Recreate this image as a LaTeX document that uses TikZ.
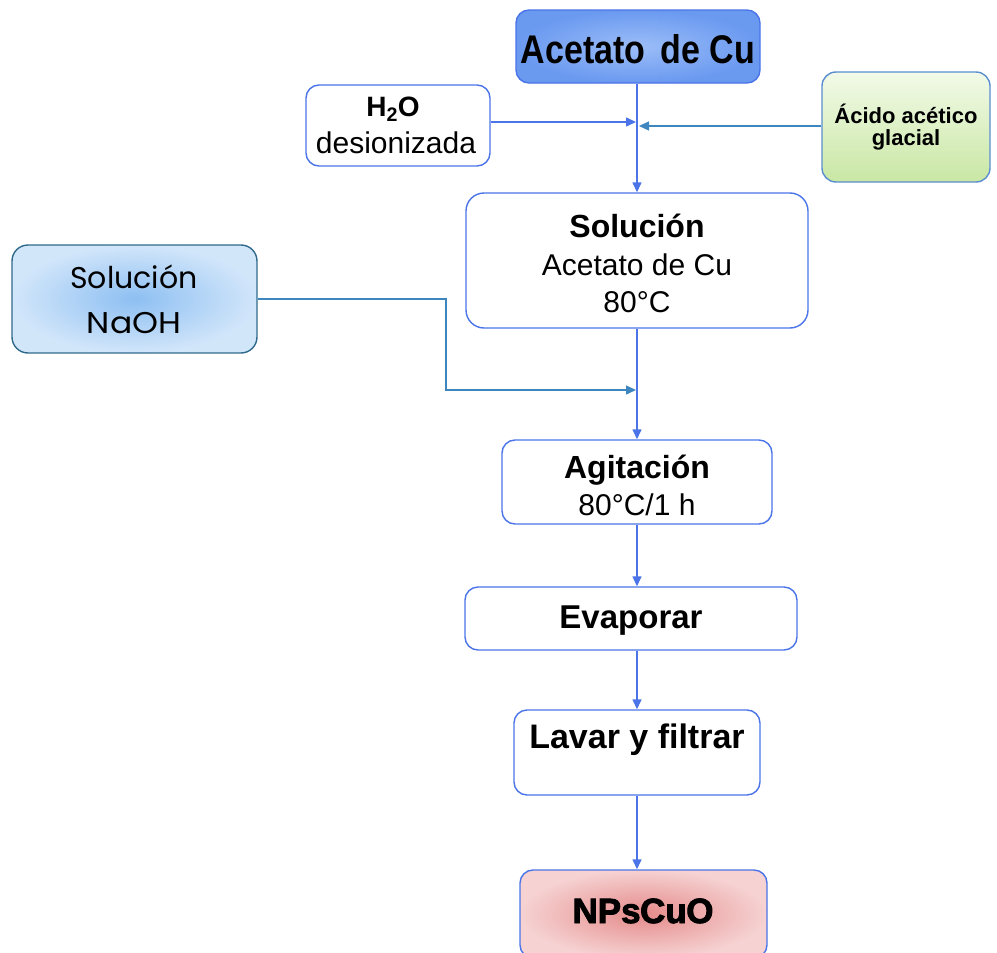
\documentclass[tikz,border=0pt]{standalone}
\usepackage{fontspec}
\setmainfont{Liberation Sans}
\newfontfamily\gothic{Poppins}
\newfontfamily\heavy[FakeBold=2.5]{Liberation Sans Bold}
\usetikzlibrary{arrows.meta}
\definecolor{bl}{HTML}{4A74E8}
\definecolor{tl}{HTML}{3D86C0}
\definecolor{dk}{HTML}{2F6A8C}
\definecolor{acin}{HTML}{9CBEF8}
\definecolor{acout}{HTML}{6A99F0}
\definecolor{grtop}{HTML}{F2FAE8}
\definecolor{grbot}{HTML}{C9E7A4}
\definecolor{grbd}{HTML}{5A8ED0}
\definecolor{nain}{HTML}{8DBFF2}
\definecolor{naout}{HTML}{D2E6FA}
\definecolor{rdin}{HTML}{E58A8A}
\definecolor{rdout}{HTML}{F6D2D2}
\begin{document}
\begin{tikzpicture}[x=1pt,y=-1pt,
  box/.style={draw=bl, line width=1.4pt, rounded corners=13pt, fill=white, inner sep=0pt},
  arr/.style={draw=bl, line width=1.4pt, -{Triangle[length=10pt,width=9pt]}},
  tarr/.style={draw=tl, line width=1.4pt, -{Triangle[length=10pt,width=9pt]}},
  fs/.style={font=\fontsize{#1}{#1}\selectfont, anchor=base, inner sep=0pt},
  bfs/.style={font=\fontsize{#1}{#1}\selectfont\bfseries, anchor=base, inner sep=0pt},
  hfs/.style={font=\fontsize{#1}{#1}\selectfont\heavy, anchor=base, inner sep=0pt},
  gfs/.style={font=\fontsize{#1}{#1}\selectfont\gothic, anchor=base, inner sep=0pt}]
\useasboundingbox (0,0) rectangle (997,953);

% boxes
\node[box, minimum width=244pt, minimum height=73pt, inner color=acin, outer color=acout] (ac) at (638,46.5) {};
\node[box, minimum width=184pt, minimum height=81pt] (h2o) at (398,125.5) {};
\node[box, draw=grbd, minimum width=168pt, minimum height=110pt, top color=grtop, bottom color=grbot, rounded corners=14pt] (aci) at (906,127) {};
\node[box, minimum width=342pt, minimum height=135pt, rounded corners=18pt] (sol) at (637,260.5) {};
\node[box, draw=dk, minimum width=245pt, minimum height=108pt, inner color=nain, outer color=naout, rounded corners=16pt] (na) at (134.5,299) {};
\node[box, minimum width=270pt, minimum height=84pt] (ag) at (637,482) {};
\node[box, minimum width=332pt, minimum height=63pt] (ev) at (631,618.5) {};
\node[box, minimum width=246pt, minimum height=85pt] (lv) at (637,752.5) {};
\node[box, minimum width=247pt, minimum height=88pt, inner color=rdin, outer color=rdout] (np) at (643.5,914) {};

% texts
\node[bfs=40] (act) at (638,63) {\scalebox{0.85}[1]{Acetato\, de Cu}};
\node[bfs=28] (h2ot) at (393,116) {H\textsubscript{2}O};
\node[fs=30] (h2od) at (396,153) {desionizada};
\node[bfs=22] (acit) at (906,123) {Ácido acético};
\node[bfs=22] (acib) at (906,145) {glacial};
\node[bfs=32] (solt) at (637,237) {Solución};
\node[fs=30] (sol2) at (637,275) {Acetato de Cu};
\node[fs=30] (sol3) at (637,312) {80°C};
\node[gfs=30] (nat) at (134,288) {Solución};
\node[gfs=30] (nab) at (134,333) {\scalebox{1.1}[1]{NaOH}};
\node[bfs=32] (agt) at (637,478) {Agitación};
\node[fs=30] (agb) at (637,515) {80°C/1 h};
\node[bfs=33] (evt) at (631,628) {Evaporar};
\node[bfs=34] (lvt) at (637,748) {Lavar y filtrar};
\node[hfs=35] (npt) at (643,923) {NPs\kern-0.5ptCu\kern-0.5ptO};

% junction coordinates
\coordinate (j1) at (636,122);
\coordinate (j2) at (639,126);
\coordinate (bend) at (446,390);
\coordinate (j3) at (636,390);

% connectors
\draw[arr] (ac.south -| 637,0) -- (sol.north -| 637,0);
\draw[arr] (h2o.east |- j1) -- (j1);
\draw[tarr] (aci.west |- j2) -- (j2);
\draw[tarr] (na.east) -| (bend) -- (j3);
\draw[arr] (sol.south -| 637,0) -- (ag.north -| 637,0);
\draw[arr] (ag.south -| 637,0) -- (ev.north -| 637,0);
\draw[arr] (ev.south -| 637,0) -- (lv.north -| 637,0);
\draw[arr] (lv.south -| 637,0) -- (np.north -| 637,0);
\end{tikzpicture}
\end{document}
